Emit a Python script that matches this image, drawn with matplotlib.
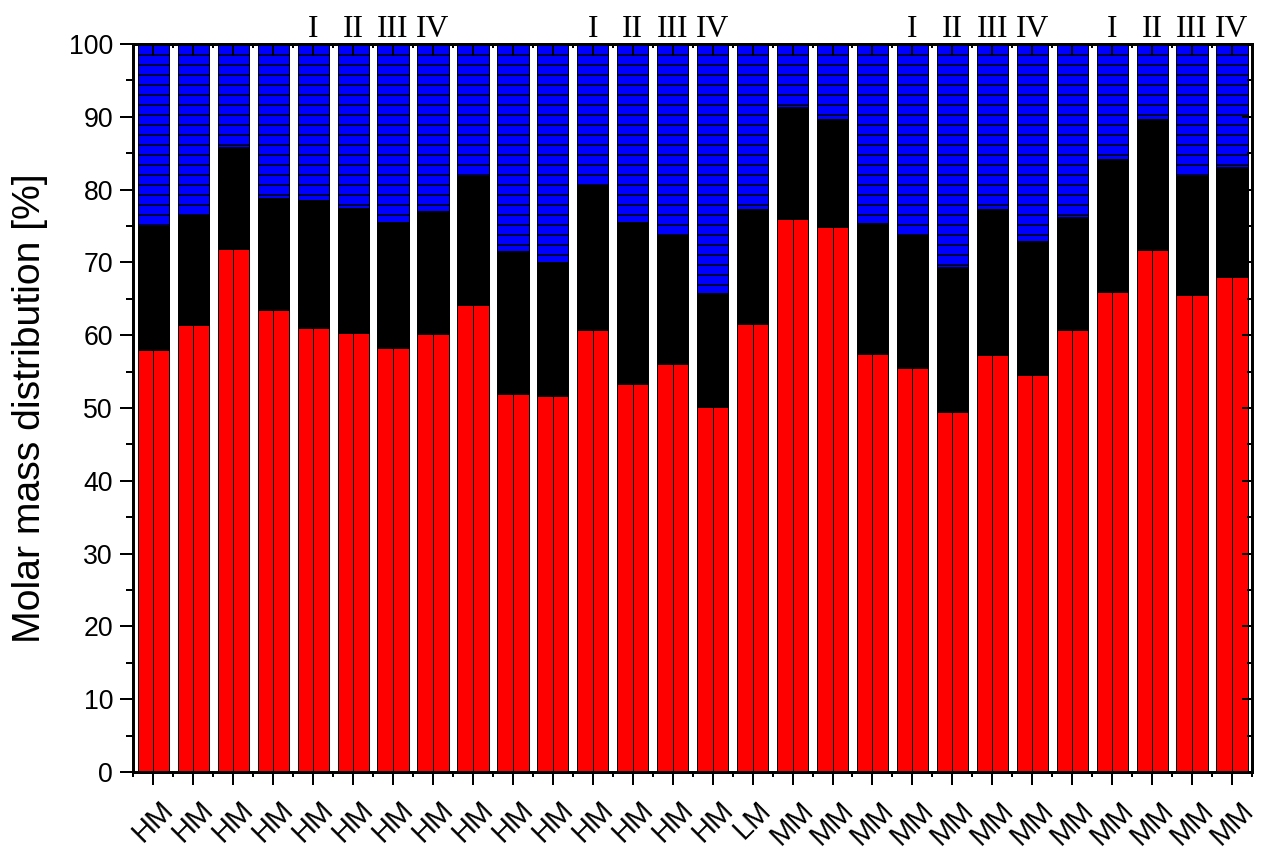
import matplotlib
matplotlib.use("Agg")
import matplotlib.pyplot as plt
import matplotlib.transforms as mtransforms
import numpy as np

# sample labels (one per stacked bar)
sample_labels = ["HM"] * 15 + ["LM"] + ["MM"] * 12
# roman numerals written above some of the bars
roman_labels = ["", "", "", "", "I", "II", "III", "IV", "", "", "", "I", "II", "III", "IV",
                "", "", "", "", "I", "II", "III", "IV", "", "I", "II", "III", "IV"]

# fractions in % (bottom red, middle black, top blue)
red_part = [58.0, 61.4, 71.8, 63.5, 61.0, 60.3, 58.2, 60.2, 64.2, 51.9, 51.6, 60.7, 53.3, 56.0,
            50.2, 61.6, 75.9, 74.9, 57.4, 55.5, 49.4, 57.3, 54.5, 60.7, 66.0, 71.7, 65.5, 68.0]
black_part = [17.0, 15.1, 14.0, 15.3, 17.6, 17.2, 17.3, 16.9, 17.6, 19.7, 18.4, 19.9, 22.3, 17.7,
              15.6, 15.7, 15.4, 14.8, 18.0, 18.3, 19.9, 20.1, 18.5, 15.6, 18.2, 18.0, 16.3, 15.1]
blue_part = [25.0, 23.5, 14.2, 21.2, 21.4, 22.5, 24.5, 22.9, 18.2, 28.4, 30.0, 19.4, 24.4, 26.3,
             34.2, 22.7, 8.7, 10.3, 24.6, 26.2, 30.7, 22.6, 27.0, 23.7, 15.8, 10.3, 18.2, 16.9]

plt.rcParams["font.family"] = ["Liberation Sans", "DejaVu Sans"]
plt.rcParams["hatch.linewidth"] = 1.8

# dpi 60 so the default hatch spacing is about 10 px
fig = plt.figure(figsize=(1262 / 60, 856 / 60), dpi=60)
ax = fig.add_axes([133 / 1262, 1 - 772 / 856, (1252 - 133) / 1262, (772 - 44) / 856])

x = np.arange(len(sample_labels))
red = np.array(red_part)
black = np.array(black_part)
blue = np.array(blue_part)
w = 0.78

ax.bar(x, red, w, color="#ff0000", edgecolor="black", linewidth=1.2, zorder=2)
ax.vlines(x, 0, red, colors="black", linewidth=1.2, zorder=3)
ax.bar(x, black, w, bottom=red, color="black", edgecolor="black", linewidth=1.2, zorder=2)
ax.bar(x, blue, w, bottom=red + black, color="#0000ff", edgecolor="black",
       linewidth=1.2, hatch="-", zorder=2)

ax.set_xlim(-0.51, 27.45)
ax.set_ylim(0, 100)

ax.set_xticks(x)
ax.set_xticklabels(sample_labels, rotation=45, ha="center", va="top", fontsize=35)
shift = mtransforms.ScaledTranslation(7 / 60, 0, fig.dpi_scale_trans)
for lbl in ax.get_xticklabels():
    lbl.set_transform(lbl.get_transform() + shift)
ax.set_xticks(np.arange(-0.5, len(x), 1), minor=True)
ax.set_yticks(np.arange(0, 101, 10))
ax.set_yticks(np.arange(5, 100, 10), minor=True)
ax.tick_params(axis="x", which="major", direction="out", length=15.6, width=2.4, pad=13, top=False)
ax.tick_params(axis="x", which="minor", direction="out", length=6, width=2.4, top=False)
ax.tick_params(axis="y", which="major", direction="out", length=16, width=2.4, pad=8,
               labelsize=32, right=False)
ax.tick_params(axis="y", which="minor", direction="out", length=9, width=2.4, right=False)
ax.set_ylabel("Molar mass distribution [%]", fontsize=47)
ax.yaxis.set_label_coords(-0.076, 0.5)

for s in ax.spines.values():
    s.set_linewidth(3)

# inward ticks on top and right
ax_top = ax.twiny()
ax_top.set_xlim(ax.get_xlim())
ax_top.set_xticks(x)
ax_top.set_xticks(np.arange(-0.5, len(x), 1), minor=True)
ax_top.set_xticklabels([])
ax_top.tick_params(axis="x", which="major", direction="in", length=14, width=2.4)
ax_top.tick_params(axis="x", which="minor", direction="in", length=5, width=2.4)

ax_right = ax.twinx()
ax_right.set_ylim(ax.get_ylim())
ax_right.set_yticks(np.arange(0, 101, 10))
ax_right.set_yticks(np.arange(5, 100, 10), minor=True)
ax_right.set_yticklabels([])
ax_right.tick_params(axis="y", which="major", direction="in", length=12, width=2.4)
ax_right.tick_params(axis="y", which="minor", direction="in", length=6, width=2.4)
for a in (ax_top, ax_right):
    for s in a.spines.values():
        s.set_linewidth(3)

for xi, lab in zip(x, roman_labels):
    if lab:
        ax.text(xi, 1.0096, lab, transform=ax.get_xaxis_transform(), ha="center", va="baseline",
                fontsize=38, family="Liberation Serif")

fig.savefig("out.png", dpi=60)
